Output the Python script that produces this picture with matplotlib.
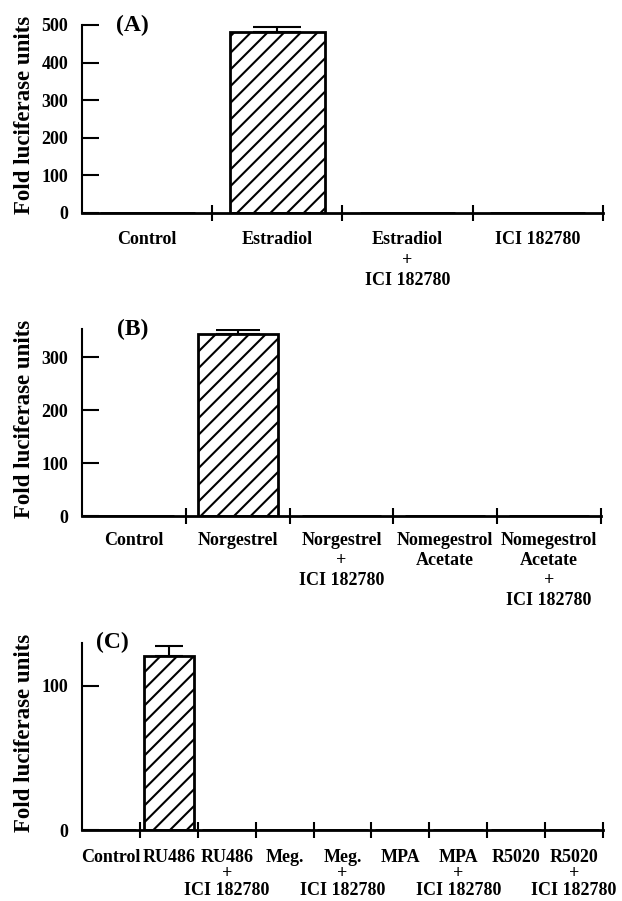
import matplotlib
matplotlib.use('Agg')
import matplotlib.pyplot as plt
import matplotlib.transforms as mtransforms
import numpy as np

plt.rcParams['font.family'] = ['Liberation Serif', 'DejaVu Serif']
plt.rcParams['font.weight'] = 'bold'
plt.rcParams['hatch.linewidth'] = 1.5

# (A) estradiol panel
labels_a = ['Control', 'Estradiol', 'Estradiol\n+\nICI 182780', 'ICI 182780']
values_a = [0, 480, 0, 0]
errors_a = [0, 14, 0, 0]

# (B) progestins panel
labels_b = ['Control', 'Norgestrel', 'Norgestrel\n+\nICI 182780',
            'Nomegestrol\nAcetate', 'Nomegestrol\nAcetate\n+\nICI 182780']
values_b = [0, 343, 0, 0, 0]
errors_b = [0, 8, 0, 0, 0]

# (C) other steroids
labels_c = ['Control', 'RU486', 'RU486\n+\nICI 182780', 'Meg.', 'Meg.\n+\nICI 182780',
            'MPA', 'MPA\n+\nICI 182780', 'R5020', 'R5020\n+\nICI 182780']
values_c = [0, 121, 0, 0, 0, 0, 0, 0, 0]
errors_c = [0, 7, 0, 0, 0, 0, 0, 0, 0]


def panel(fig, ax, labels, values, errors, ymax, yticks, width, capsize, tag, tagx,
          pad, step):
    x = np.arange(len(labels))
    ax.bar(x, values, width, color='white', edgecolor='black', hatch='//',
           linewidth=2, zorder=2)
    for i, e in enumerate(errors):
        if e > 0:
            ax.errorbar(x[i], values[i], yerr=[[0], [e]], fmt='none', ecolor='black',
                        elinewidth=1.5, capsize=capsize, capthick=1.5, zorder=3)
    ax.set_xlim(-0.5, len(labels) - 0.5)
    ax.set_ylim(0, ymax)
    ax.set_yticks(yticks)
    ax.set_xticks(np.arange(0.5, len(labels)))
    ax.set_xticklabels([])
    ax.tick_params(axis='x', which='major', direction='inout', length=11.5, width=1.5)
    ax.tick_params(axis='y', direction='in', length=12, width=1.5, pad=10, labelsize=13)
    # category labels, one text per line
    for xi, lab in zip(x, labels):
        for j, line in enumerate(lab.split('\n')):
            off = mtransforms.ScaledTranslation(0, -(pad + j * step) / 72,
                                                fig.dpi_scale_trans)
            ax.text(xi, 0, line, transform=ax.get_xaxis_transform() + off,
                    ha='center', va='top', fontsize=13, fontweight='bold')
    for s in ['top', 'right']:
        ax.spines[s].set_visible(False)
    ax.spines['left'].set_linewidth(1.5)
    ax.spines['bottom'].set_linewidth(2)
    ax.set_ylabel('Fold luciferase units', fontsize=16.5, fontweight='bold')
    ax.yaxis.set_label_coords(-0.09, 0.52)
    ax.text(tagx, 1.0, tag, transform=ax.transAxes, fontsize=17, fontweight='bold',
            ha='center', va='center')


fig = plt.figure(figsize=(6.22, 9.01), dpi=100)
ax1 = fig.add_axes([0.1318, 0.7639, 0.8376, 0.2084])
ax2 = fig.add_axes([0.1318, 0.4273, 0.8344, 0.2075])
ax3 = fig.add_axes([0.1318, 0.0788, 0.8376, 0.2079])

panel(fig, ax1, labels_a, values_a, errors_a, 500, [0, 100, 200, 300, 400, 500],
      0.73, 17, '(A)', 0.096, 13.5, 14.5)
panel(fig, ax2, labels_b, values_b, errors_b, 353, [0, 100, 200, 300],
      0.77, 16, '(B)', 0.098, 11.5, 14.5)
panel(fig, ax3, labels_c, values_c, errors_c, 130, [0, 100],
      0.87, 10, '(C)', 0.058, 13.5, 12)

fig.savefig('out.png', dpi=100)
